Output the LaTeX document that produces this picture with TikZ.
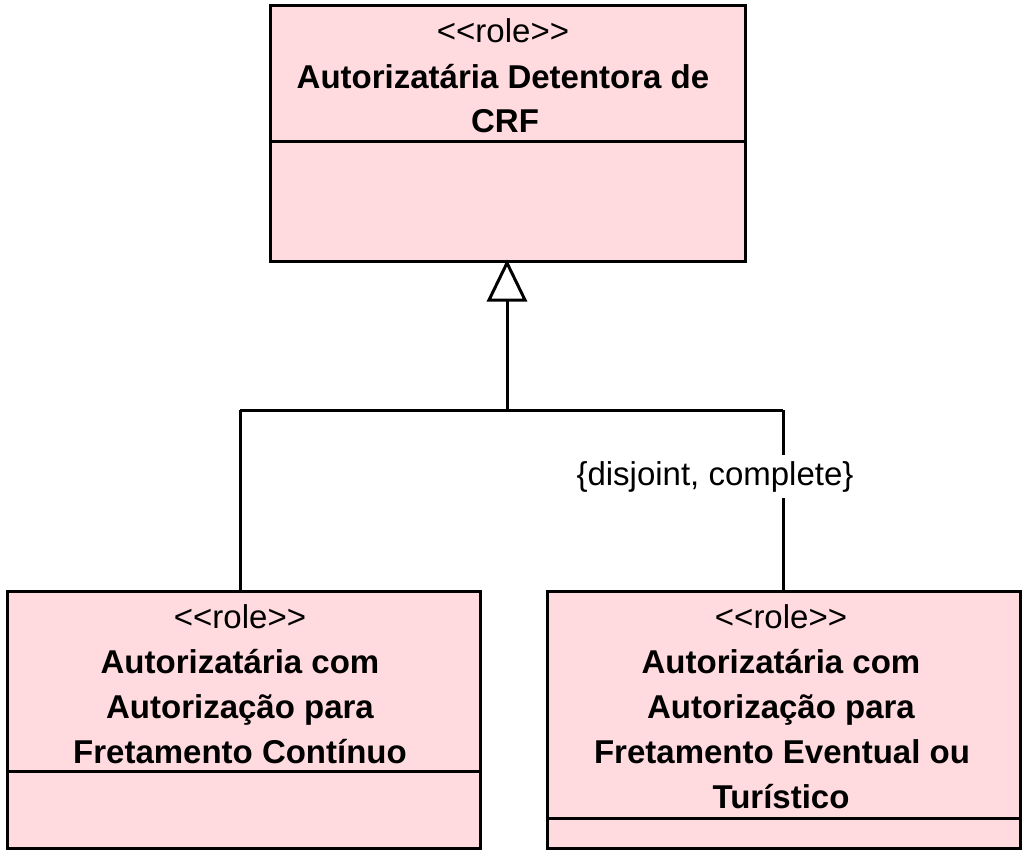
\documentclass[tikz,border=0pt]{standalone}
\usepackage{fontspec}
\setmainfont{Liberation Sans}
\definecolor{boxfill}{RGB}{255,218,222}
\tikzset{
  umlbox/.style={draw=black, fill=boxfill, line width=3pt, rectangle, inner sep=0pt},
  stereo/.style={anchor=base, inner sep=0pt, font=\fontsize{33}{45}\selectfont},
  cname/.style={anchor=base, inner sep=0pt, font=\fontsize{33}{45}\selectfont\bfseries},
  conn/.style={draw=black, line width=3pt},
  divider/.style={draw=black, line width=3pt},
}
\newcommand{\stlt}{{<}{<}}
\newcommand{\stgt}{{>}{>}}
\begin{document}
\begin{tikzpicture}[x=1pt,y=-1pt]
\useasboundingbox (0,0) rectangle (1032,858);
% top box
\node[umlbox, minimum width=475pt, minimum height=256pt] (top) at (507.5,134) {};
\draw[divider] (top.west |- 0,142) -- (top.east |- 0,142);
\node[stereo] (t1) at (503,43) {\stlt role\stgt};
\node[cname] (t2) at (503,89) {Autorizatária Detentora de};
\node[cname] (t3) at (505,133) {CRF};
% bottom-left box
\node[umlbox, minimum width=473pt, minimum height=257pt] (bl) at (243.5,719.5) {};
\draw[divider] (bl.west |- 0,771) -- (bl.east |- 0,771);
\node[stereo] (l1) at (240,628) {\stlt role\stgt};
\node[cname] (l2) at (240,673) {Autorizatária com};
\node[cname] (l3) at (240,718) {Autorização para};
\node[cname] (l4) at (240,763) {Fretamento Contínuo};
% bottom-right box
\node[umlbox, minimum width=473pt, minimum height=257pt] (br) at (783.5,719.5) {};
\draw[divider] (br.west |- 0,818) -- (br.east |- 0,818);
\node[stereo] (r1) at (781,628) {\stlt role\stgt};
\node[cname] (r2) at (781,673) {Autorizatária com};
\node[cname] (r3) at (781,718) {Autorização para};
\node[cname] (r4) at (782,763) {Fretamento Eventual ou};
\node[cname] (r5) at (781,808) {Turístico};
% generalization
\coordinate (apex) at (507,263);
\coordinate (tl) at (489,300);
\coordinate (tr) at (525,300);
\coordinate (tb) at (507,300);
\coordinate (j) at (507,410);
\coordinate (jl) at (240,410);
\coordinate (jr) at (783,410);
\draw[conn, fill=white, line join=miter] (apex) -- (tr) -- (tl) -- cycle;
\draw[conn] (tb) -- (j);
\draw[conn] (jl) -- (jr);
\draw[conn] (jl) -- (jl |- bl.north);
\draw[conn] (jr) -- (jr |- br.north);
\node[stereo, fill=white, inner ysep=6pt] (lab) at (715,485) {\{disjoint, complete\}};
\end{tikzpicture}
\end{document}
